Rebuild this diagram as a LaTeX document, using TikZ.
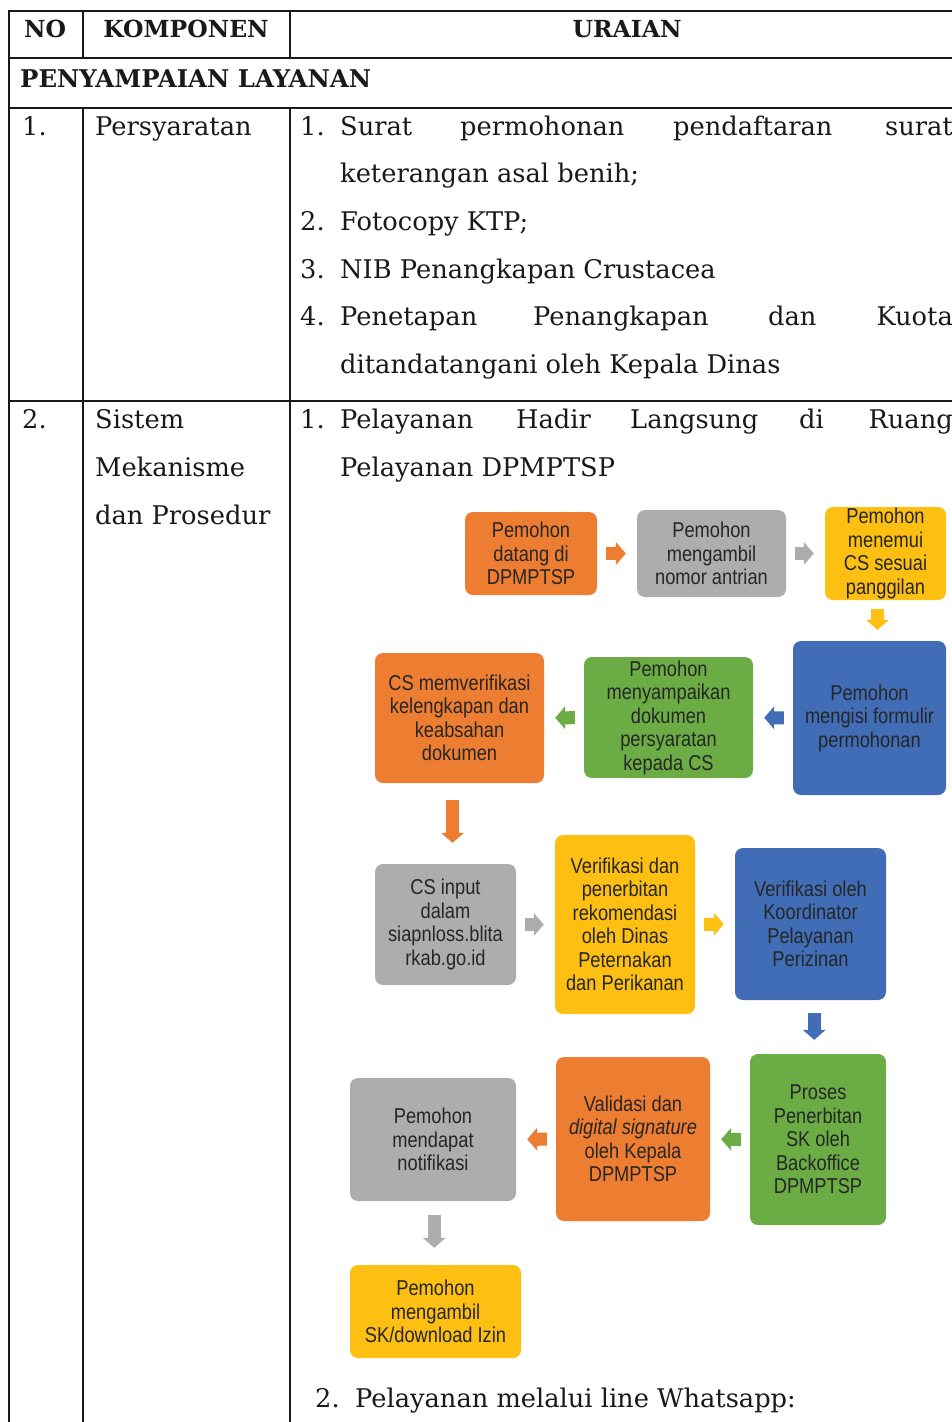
\documentclass[tikz,border=0pt]{standalone}
\usepackage{fontspec}
\setmainfont{DejaVu Serif}
\newfontfamily\boxfont[FakeStretch=0.85]{Liberation Sans}
\usetikzlibrary{arrows.meta,calc}

\definecolor{boxorange}{HTML}{ED7D31}
\definecolor{boxgray}{HTML}{ADADAD}
\definecolor{boxgold}{HTML}{FCBF12}
\definecolor{boxblue}{HTML}{416DB6}
\definecolor{boxgreen}{HTML}{6CAC45}

\tikzset{
  tableline/.style={line width=2pt, draw=black!90},
  rowtext/.style={anchor=base west, inner sep=0pt, text=black!90,
    font=\fontsize{25.7}{28}\selectfont},
  headtext/.style={anchor=base, inner sep=0pt, text=black!90,
    font=\fontsize{23.5}{28}\selectfont\bfseries},
  flowbox/.style={rounded corners=8pt, inner sep=0pt, align=center,
    text=black!85, font=\boxfont\fontsize{21.5}{23.5}\selectfont},
  flowarrow/.style={draw=#1, line width=13pt,
    -{Triangle[length=10pt,width=23pt,line width=0pt]},
    shorten <=9pt, shorten >=11pt}
}

\begin{document}
\begin{tikzpicture}[x=1pt,y=-1pt]
\useasboundingbox (0,0) rectangle (952,1422);
\clip (0,0) rectangle (952,1422);

% table rules
\draw[tableline] (9,11) -- (960,11);
\draw[tableline] (9,58) -- (960,58);
\draw[tableline] (9,108) -- (960,108);
\draw[tableline] (9,401) -- (960,401);
\draw[tableline] (9,10) -- (9,1422);
\draw[tableline] (83,10) -- (83,58);
\draw[tableline] (290,10) -- (290,58);
\draw[tableline] (83,108) -- (83,1422);
\draw[tableline] (290,108) -- (290,1422);

% header
\node[headtext] (hno) at (45,37) {NO};
\node[headtext] (hkomp) at (186,37) {KOMPONEN};
\node[headtext] (hurai) at (627,37) {URAIAN};
\node[headtext, anchor=base west, font=\fontsize{24.4}{28}\selectfont\bfseries] (hsect) at (20,87) {PENYAMPAIAN LAYANAN};

% row 1
\node[rowtext] (r1no) at (22,135) {1.};
\node[rowtext] (r1komp) at (95,135) {Persyaratan};
\node[rowtext] (r1n1) at (300,135) {1.};
\node[rowtext] (r1a) at (340,135) {Surat};
\node[rowtext] (r1b) at (460,135) {permohonan};
\node[rowtext] (r1c) at (673,135) {pendaftaran};
\node[rowtext, anchor=base east] (r1d) at (953,135) {surat};
\node[rowtext] (r1e) at (340,182) {keterangan asal benih;};
\node[rowtext] (r1n2) at (300,230) {2.};
\node[rowtext] (r1f) at (340,230) {Fotocopy KTP;};
\node[rowtext] (r1n3) at (300,278) {3.};
\node[rowtext] (r1g) at (340,278) {NIB Penangkapan Crustacea};
\node[rowtext] (r1n4) at (300,325) {4.};
\node[rowtext] (r1h) at (340,325) {Penetapan};
\node[rowtext] (r1i) at (533,325) {Penangkapan};
\node[rowtext] (r1j) at (768,325) {dan};
\node[rowtext, anchor=base east] (r1k) at (953,325) {Kuota};
\node[rowtext] (r1l) at (340,373) {ditandatangani oleh Kepala Dinas};

% row 2
\node[rowtext] (r2no) at (22,428) {2.};
\node[rowtext] (r2ka) at (95,428) {Sistem};
\node[rowtext] (r2kb) at (95,476) {Mekanisme};
\node[rowtext] (r2kc) at (95,524) {dan Prosedur};
\node[rowtext] (r2n1) at (300,428) {1.};
\node[rowtext] (r2a) at (340,428) {Pelayanan};
\node[rowtext] (r2b) at (516,428) {Hadir};
\node[rowtext] (r2c) at (630,428) {Langsung};
\node[rowtext] (r2d) at (799,428) {di};
\node[rowtext, anchor=base east] (r2e) at (953,428) {Ruang};
\node[rowtext] (r2f) at (340,476) {Pelayanan DPMPTSP};
\node[rowtext] (r2n2) at (315,1407) {2.};
\node[rowtext] (r2g) at (355,1407) {Pelayanan melalui line Whatsapp:};

% flow boxes
\node[flowbox, fill=boxorange, minimum width=132pt, minimum height=83pt] (b1) at (531,553.5) {Pemohon\\datang di\\DPMPTSP};
\node[flowbox, fill=boxgray, minimum width=149pt, minimum height=87pt] (b2) at (711.5,553.5) {Pemohon\\mengambil\\nomor antrian};
\node[flowbox, fill=boxgold, minimum width=121pt, minimum height=93pt] (b3) at (885.5,553.5) {Pemohon\\menemui\\CS sesuai\\panggilan};
\node[flowbox, fill=boxblue, minimum width=153pt, minimum height=154pt] (b4) at (869.5,718) {Pemohon\\mengisi formulir\\permohonan};
\node[flowbox, fill=boxgreen, minimum width=169pt, minimum height=121pt] (b5) at (668.5,717.5) {Pemohon\\menyampaikan\\dokumen\\persyaratan\\kepada CS};
\node[flowbox, fill=boxorange, minimum width=169pt, minimum height=130pt] (b6) at (459.5,718) {CS memverifikasi\\kelengkapan dan\\keabsahan\\dokumen};
\node[flowbox, fill=boxgray, minimum width=141pt, minimum height=121pt] (b7) at (445.5,924.5) {CS input\\dalam\\siapnloss.blita\\rkab.go.id};
\node[flowbox, fill=boxgold, minimum width=140pt, minimum height=179pt] (b8) at (625,924.5) {Verifikasi dan\\penerbitan\\rekomendasi\\oleh Dinas\\Peternakan\\dan Perikanan};
\node[flowbox, fill=boxblue, minimum width=151pt, minimum height=152pt] (b9) at (810.5,924) {Verifikasi oleh\\Koordinator\\Pelayanan\\Perizinan};
\node[flowbox, fill=boxgreen, minimum width=136pt, minimum height=171pt] (b10) at (818,1139.5) {Proses\\Penerbitan\\SK oleh\\Backoffice\\DPMPTSP};
\node[flowbox, fill=boxorange, minimum width=154pt, minimum height=164pt] (b11) at (633,1139) {Validasi dan\\\textit{digital signature}\\oleh Kepala\\DPMPTSP};
\node[flowbox, fill=boxgray, minimum width=166pt, minimum height=123pt] (b12) at (433,1139.5) {Pemohon\\mendapat\\notifikasi};
\node[flowbox, fill=boxgold, minimum width=171pt, minimum height=93pt] (b13) at (435.5,1311.5) {Pemohon\\mengambil\\SK/download Izin};

% arrows
\coordinate (m34) at ($(b3.south)!.5!(b4.north)$);
\coordinate (m67) at ($(b6.south)!.5!(b7.north)$);
\coordinate (m910) at ($(b9.south)!.5!(b10.north)$);
\coordinate (m1213) at ($(b12.south)!.5!(b13.north)$);
\draw[flowarrow=boxorange] (b1) -- (b2);
\draw[flowarrow=boxgray] (b2) -- (b3);
\draw[flowarrow=boxgold] (m34 |- b3.south) -- (m34 |- b4.north);
\draw[flowarrow=boxblue] (b4) -- (b5);
\draw[flowarrow=boxgreen] (b5) -- (b6);
\draw[flowarrow=boxorange, shorten <=17pt, shorten >=21pt] (m67 |- b6.south) -- (m67 |- b7.north);
\draw[flowarrow=boxgray] (b7) -- (b8);
\draw[flowarrow=boxgold] (b8) -- (b9);
\draw[flowarrow=boxblue, shorten <=13pt, shorten >=14pt] (m910 |- b9.south) -- (m910 |- b10.north);
\draw[flowarrow=boxgreen] (b10) -- (b11);
\draw[flowarrow=boxorange] (b11) -- (b12);
\draw[flowarrow=boxgray, shorten <=14pt, shorten >=17pt] (m1213 |- b12.south) -- (m1213 |- b13.north);
\end{tikzpicture}
\end{document}
